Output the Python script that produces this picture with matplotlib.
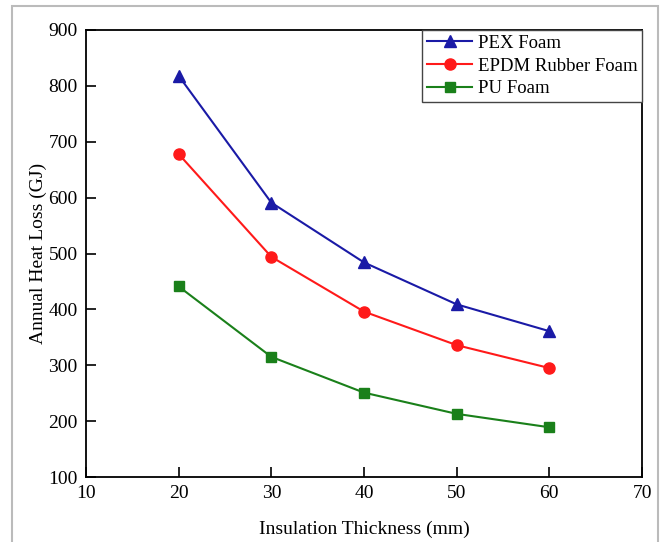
import matplotlib
matplotlib.use("Agg")
import matplotlib.pyplot as plt
from matplotlib.patches import Rectangle

thickness = [20, 30, 40, 50, 60]
pex = [818, 591, 484, 409, 361]
epdm = [678, 494, 396, 336, 295]
pu = [441, 315, 251, 213, 189]

plt.rcParams['font.family'] = ['Liberation Serif', 'DejaVu Serif']

fig = plt.figure(figsize=(6.62, 5.42), dpi=100)
# outer frame
fig.patches.append(Rectangle((12/662, -0.01), (658-12)/662, 1 - 6/542 + 0.01,
                             transform=fig.transFigure, fill=False,
                             edgecolor='#bbbbbb', linewidth=1.5))
ax = fig.add_axes([86/662, 1-477/542, (642-86)/662, (477-30)/542])

ax.plot(thickness, pex, color='#1a1aa6', marker='^', markersize=8, linewidth=1.5, label='PEX Foam')
ax.plot(thickness, epdm, color='#ff1a1a', marker='o', markersize=8, linewidth=1.5, label='EPDM Rubber Foam')
ax.plot(thickness, pu, color='#1a801a', marker='s', markersize=7, linewidth=1.5, label='PU Foam')

ax.set_xlim(10, 70)
ax.set_ylim(100, 900)
ax.set_xticks([10, 20, 30, 40, 50, 60, 70])
ax.set_yticks(range(100, 901, 100))
ax.tick_params(direction='in', length=7, width=1.2, labelsize=14, pad=6)
for s in ax.spines.values():
    s.set_linewidth(1.3)
ax.set_xlabel('Insulation Thickness (mm)', fontsize=14, labelpad=13)
ax.set_ylabel('Annual Heat Loss (GJ)', fontsize=14, labelpad=1)

leg = ax.legend(loc='upper right', borderaxespad=0, fontsize=13.5, fancybox=False,
                framealpha=1, edgecolor='#444444', handlelength=2.4, handletextpad=0.3,
                labelspacing=0.3, borderpad=0.25)
leg.get_frame().set_linewidth(1.0)

fig.savefig('out.png', dpi=100)
